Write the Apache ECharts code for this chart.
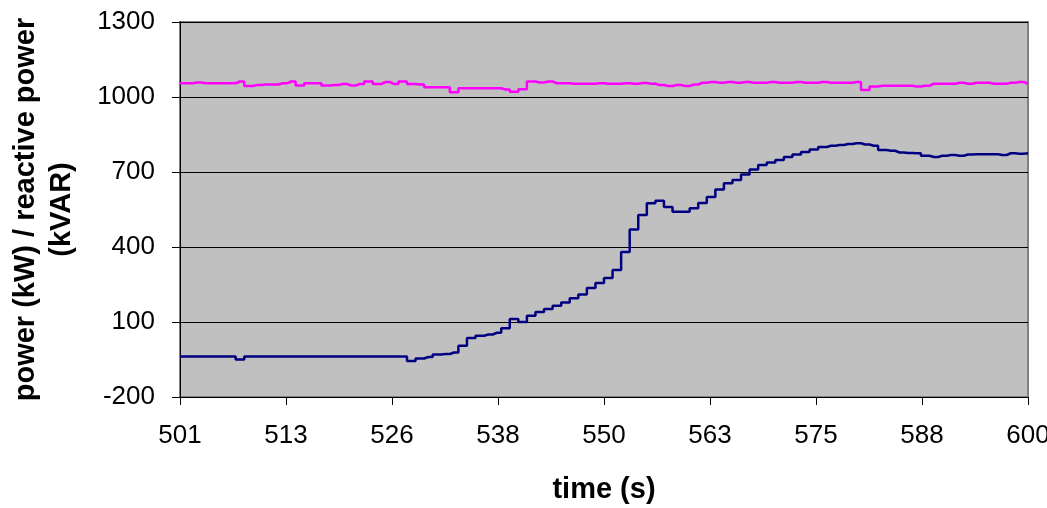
<!DOCTYPE html>
<html>
<head>
<meta charset="utf-8">
<script src="https://cdn.jsdelivr.net/npm/echarts@6/dist/echarts.min.js"></script>
<style>html,body{margin:0;padding:0;background:#fff}#c{width:1047px;height:508px}</style>
</head>
<body>
<div id="c"></div>
<script>
var xTickLabels = ['501','513','526','538','550','563','575','588','600'];
var times = [];
for (var t = 501; t <= 600; t++) times.push(t);
var power = [
-38,-38,-38,-38,-38,-38,-38,-50,-38,-38,
-38,-38,-38,-38,-38,-38,-38,-38,-38,-38,
-38,-38,-38,-38,-38,-38,-38,-56,-46,-40,
-30,-28,-22,5,36,45,50,57,75,112,
100,125,140,152,165,178,195,210,236,256,
276,308,380,470,528,575,585,560,541,541,
555,576,600,630,655,668,690,710,728,738,
748,760,770,780,790,800,805,808,812,815,
810,805,788,785,778,776,775,765,760,765,
768,765,770,771,771,771,768,775,773,775
];
var reactive = [
1055,1055,1058,1055,1055,1055,1055,1062,1044,1048,
1050,1050,1055,1062,1046,1055,1055,1046,1048,1052,
1046,1052,1062,1052,1060,1052,1062,1052,1050,1039,
1039,1039,1019,1035,1035,1035,1035,1035,1030,1021,
1031,1062,1058,1062,1055,1055,1053,1053,1053,1055,
1053,1053,1055,1053,1056,1053,1048,1044,1048,1044,
1050,1057,1060,1057,1060,1057,1060,1057,1057,1060,
1057,1057,1060,1057,1057,1060,1057,1057,1057,1060,
1028,1042,1045,1045,1045,1045,1042,1045,1053,1053,
1053,1057,1053,1057,1057,1053,1053,1057,1060,1053
];
function pairs(v){ return times.map(function(t,i){ return [t, v[i]]; }); }
var chart = echarts.init(document.getElementById('c'));
chart.setOption({
  animation: false,
  grid: { left: 180, right: 19, top: 22, bottom: 111, show: true, backgroundColor: '#C0C0C0', borderColor: '#808080', borderWidth: 2, containLabel: false, outerBoundsMode: 'none' },
  xAxis: {
    type: 'value', min: 501, max: 600, interval: 12.375,
    name: 'time (s)', nameLocation: 'middle', nameGap: 78,
    nameTextStyle: { fontFamily: 'Liberation Sans', fontWeight: 'bold', fontSize: 29, color: '#000' },
    axisLine: { show: true, onZero: false, lineStyle: { color: '#000', width: 1 } },
    axisTick: { show: true, length: 8, lineStyle: { color: '#000' } },
    axisLabel: { margin: 26, fontFamily: 'Liberation Sans', fontSize: 26, color: '#000',
      showMaxLabel: true, showMinLabel: true, hideOverlap: false,
      formatter: function(v){ var i = Math.round((v - 501) / 12.375); return xTickLabels[i] || ''; } },
    splitLine: { show: false }
  },
  yAxis: {
    type: 'value', min: -200, max: 1300, interval: 300,
    name: 'power (kW) / reactive power\n(kVAR)', nameLocation: 'middle', nameGap: 100, nameRotate: 90,
    nameTextStyle: { fontFamily: 'Liberation Sans', fontWeight: 'bold', fontSize: 29, color: '#000', lineHeight: 36 },
    axisLine: { show: true, onZero: false, lineStyle: { color: '#000', width: 1 } },
    axisTick: { show: true, length: 8, lineStyle: { color: '#000' } },
    axisLabel: { margin: 25, fontFamily: 'Liberation Sans', fontSize: 26, color: '#000',
      formatter: function(v){ return String(v); } },
    splitLine: { show: true, lineStyle: { color: '#000', width: 1 } }
  },
  series: [
    { type: 'line', data: pairs(reactive), step: 'middle', showSymbol: false, lineStyle: { color: '#FF00FF', width: 2.5 }, itemStyle: { color: '#FF00FF' } },
    { type: 'line', data: pairs(power), step: 'middle', showSymbol: false, lineStyle: { color: '#000080', width: 2.5 }, itemStyle: { color: '#000080' } }
  ]
});
</script>
</body>
</html>
